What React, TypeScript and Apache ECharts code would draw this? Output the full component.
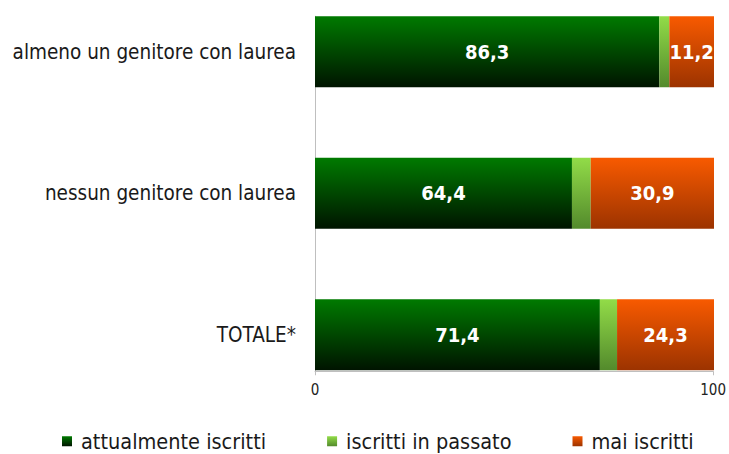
import React, { useEffect, useRef } from "react";
import * as echarts from "echarts";

const categories = ["almeno un genitore con laurea", "nessun genitore con laurea", "TOTALE*"];
const seriesNames = ["attualmente iscritti", "iscritti in passato", "mai iscritti"];
const attuali = [86.3, 64.4, 71.4];
const passato = [2.5, 4.7, 4.3];
const mai = [11.2, 30.9, 24.3];
const axisTicks = [0, 100];

const FONT = "'DejaVu Sans Condensed', 'DejaVu Sans', sans-serif";
const SHIFT = 19.25;

const grad = (top: string, bottom: string) =>
  new echarts.graphic.LinearGradient(0, 0, 0, 1, [
    { offset: 0, color: top },
    { offset: 1, color: bottom },
  ]);

export default function App() {
  const ref = useRef<HTMLDivElement>(null);
  useEffect(() => {
    if (!ref.current) return;
    const chart = echarts.init(ref.current, undefined, { renderer: "svg" });
    const label = {
      show: true,
      position: "inside",
      color: "#ffffff",
      fontFamily: FONT,
      fontWeight: "bold",
      fontSize: 20,
      formatter: (p: any) => String(p.value.toFixed(1)).replace(".", ","),
    };
    chart.setOption({
      animation: false,
      textStyle: { fontFamily: FONT },
      grid: [
        { left: 315, right: 15, top: 0, height: 424.5 },
        { left: 315, right: 15, top: 16 + SHIFT, height: 355 },
      ],
      xAxis: [
        { gridIndex: 0, type: "value", min: 0, max: 100, show: false },
        {
          gridIndex: 1,
          type: "value",
          min: axisTicks[0],
          max: axisTicks[1],
          interval: 100,
          axisLine: { show: true, lineStyle: { color: "#bfbfbf", width: 1 } },
          axisTick: { show: true, length: 4, lineStyle: { color: "#bfbfbf" } },
          axisLabel: { color: "#222", fontSize: 15, margin: 11, fontFamily: FONT },
          splitLine: { show: false },
        },
      ],
      yAxis: [
        {
          gridIndex: 0,
          type: "category",
          inverse: true,
          data: categories,
          axisLine: { show: false },
          axisTick: { show: false },
          axisLabel: { color: "#1a1a1a", fontSize: 20.5, margin: 19, fontFamily: FONT },
        },
        {
          gridIndex: 1,
          type: "value",
          min: 0,
          max: 1,
          axisLine: { show: true, lineStyle: { color: "#bfbfbf", width: 1 } },
          axisTick: { show: false },
          axisLabel: { show: false },
          splitLine: { show: false },
        },
      ],
      legend: {
        top: 429 + SHIFT,
        left: 62,
        padding: 0,
        itemWidth: 10,
        itemHeight: 10,
        itemGap: 61,
        icon: "rect",
        textStyle: {
          color: "#1a1a1a",
          fontSize: 21.5,
          lineHeight: 24,
          fontFamily: FONT,
          padding: [0, 0, 0, 4],
        },
        data: seriesNames,
      },
      series: [
        {
          name: seriesNames[0],
          type: "bar",
          stack: "t",
          xAxisIndex: 0,
          yAxisIndex: 0,
          barWidth: 71,
          data: attuali,
          itemStyle: { color: grad("#007a00", "#001400") },
          label,
        },
        {
          name: seriesNames[1],
          type: "bar",
          stack: "t",
          xAxisIndex: 0,
          yAxisIndex: 0,
          barWidth: 71,
          data: passato,
          itemStyle: { color: grad("#92dc48", "#538a2c") },
        },
        {
          name: seriesNames[2],
          type: "bar",
          stack: "t",
          xAxisIndex: 0,
          yAxisIndex: 0,
          barWidth: 71,
          data: mai,
          itemStyle: { color: grad("#f85a00", "#9c3300") },
          label,
        },
      ],
    });
    return () => chart.dispose();
  }, []);
  return (
    <div
      ref={ref}
      style={{ width: 729, height: 454 + SHIFT, position: "absolute", left: 0, top: -SHIFT }}
    />
  );
}
